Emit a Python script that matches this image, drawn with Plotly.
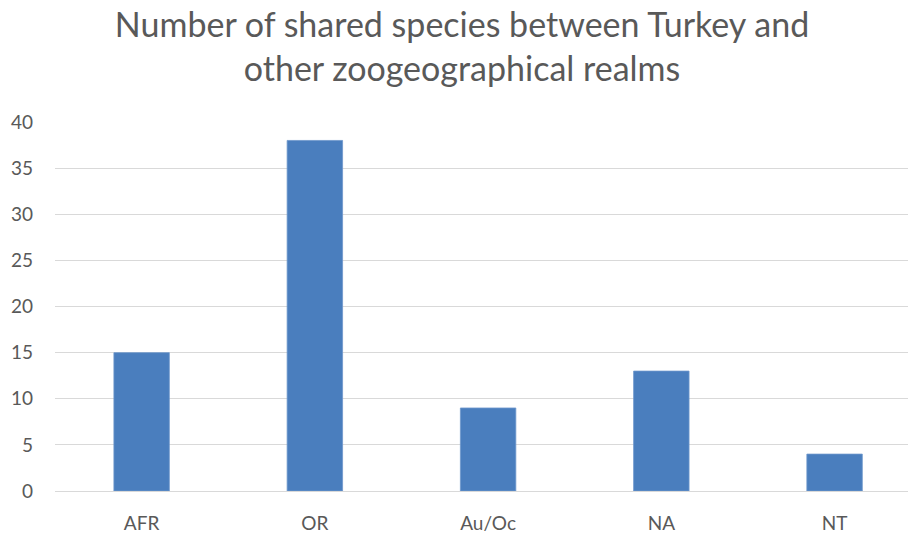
import plotly.graph_objects as go

categories = ["AFR", "OR", "Au/Oc", "NA", "NT"]
values = [15, 38, 9, 13, 4]
y_ticks = [0, 5, 10, 15, 20, 25, 30, 35, 40]

FONT = "Lato, Open Sans, sans-serif"

fig = go.Figure(go.Bar(
    x=categories, y=values,
    marker=dict(color="#4a7ebe", line=dict(width=0.8, color="#6d97cc")),
    width=0.32,
))

fig.update_layout(
    width=908, height=527,
    paper_bgcolor="white", plot_bgcolor="white",
    margin=dict(l=47, r=0, t=114, b=44),
    title=dict(
        text="Number of shared species between Turkey and<br>other zoogeographical realms",
        x=0.5, xanchor="center", y=1 - 29 / 527, yanchor="top",
        font=dict(family=FONT, size=34, color="#595959"),
    ),
    showlegend=False,
)
fig.update_xaxes(
    range=[-0.5, 4.47], showgrid=False, showline=False, ticks="",
    tickfont=dict(family=FONT, size=19, color="#595959"),
    ticklabelstandoff=19,
)
fig.update_yaxes(
    range=[0, 40], tickvals=y_ticks, showgrid=True, gridcolor="#d9d9d9", gridwidth=1,
    zeroline=True, zerolinecolor="#d9d9d9", zerolinewidth=1, showline=False, ticks="",
    tickfont=dict(family=FONT, size=19, color="#595959"),
    ticklabelstandoff=21,
)

fig.write_html("out.html")
